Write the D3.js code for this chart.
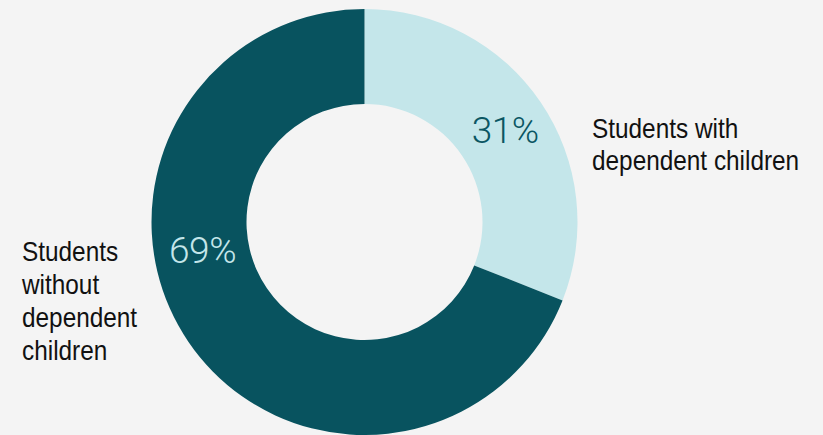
<!DOCTYPE html>
<html>
<head>
<meta charset="utf-8">
<script src="https://cdn.jsdelivr.net/npm/d3@7"></script>
<style>
  html, body { margin: 0; padding: 0; background: #f4f4f4; }
  svg { display: block; }
</style>
</head>
<body>
<svg id="chart" width="823" height="435"></svg>
<script>
// Share of students by dependent-children status
const categories = ["Students with dependent children", "Students without dependent children"];
const values = [31, 69];
const valueLabels = ["31%", "69%"];
const colors = ["#c4e6ea", "#08535f"];
const valueLabelColors = ["#0b5663", "#c4e6ea"];

const width = 823, height = 435;
const cx = 364.5, cy = 222;
const outerR = 213, innerR = 118;

const svg = d3.select("#chart");
svg.append("rect").attr("width", width).attr("height", height).attr("fill", "#f4f4f4");

const pie = d3.pie().sort(null).value(d => d)(values);
const arc = d3.arc().innerRadius(innerR).outerRadius(outerR);

const g = svg.append("g").attr("transform", `translate(${cx},${cy})`);

g.selectAll("path.slice")
  .data(pie)
  .join("path")
  .attr("class", "slice")
  .attr("d", arc)
  .attr("fill", (d, i) => colors[i]);

// value labels sit inside the ring; the larger slice's label is pulled toward the left side
const labelPos = [{ frac: 0.51, r: 168 }, { frac: 0.597, r: 164.5 }];
g.selectAll("g.value")
  .data(pie)
  .join("g")
  .attr("class", "value")
  .attr("transform", (d, i) => {
    const a = d.startAngle + (d.endAngle - d.startAngle) * labelPos[i].frac;
    const r = labelPos[i].r;
    return `translate(${r * Math.sin(a)},${-r * Math.cos(a)})`;
  })
  .append("text")
  .attr("text-anchor", "middle")
  .attr("dominant-baseline", "central")
  .attr("font-family", "Roboto, 'Liberation Sans', sans-serif")
  .attr("font-weight", 300)
  .attr("font-size", 37)
  .attr("letter-spacing", -0.5)
  .attr("fill", (d, i) => valueLabelColors[i])
  .text((d, i) => valueLabels[i]);

// category labels, set in a condensed face
const labelFont = "'Liberation Sans', Arial, sans-serif";
const squeeze = 0.87;
const rightLines = ["Students with", "dependent children"];
const leftLines = ["Students", "without", "dependent", "children"];

function block(x, y, lines, lineH) {
  svg.append("g")
    .attr("transform", `translate(${x},${y}) scale(${squeeze},1)`)
    .append("text")
    .attr("font-family", labelFont).attr("font-size", 28).attr("fill", "#111")
    .selectAll("tspan").data(lines).join("tspan")
    .attr("x", 0).attr("y", (d, i) => i * lineH)
    .text(d => d);
}
block(592, 138, rightLines, 32.5);
block(22, 261, leftLines, 33);
</script>
</body>
</html>
